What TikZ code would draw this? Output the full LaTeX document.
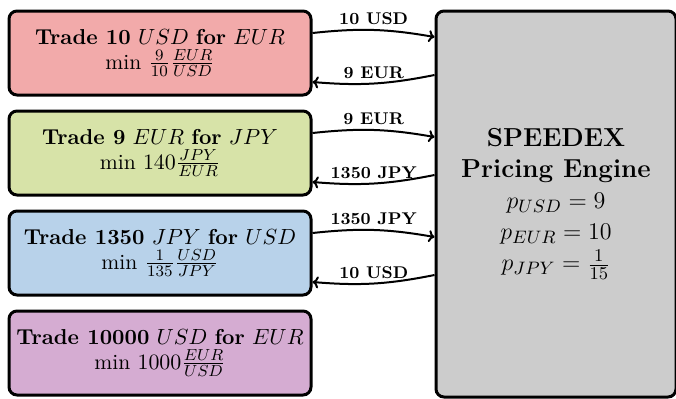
\documentclass[tikz,border=0pt]{standalone}
\usetikzlibrary{arrows.meta,calc}
\definecolor{cred}{RGB}{242,170,170}
\definecolor{cgreen}{RGB}{215,227,168}
\definecolor{cblue}{RGB}{184,210,234}
\definecolor{cpurple}{RGB}{213,172,210}
\definecolor{cgray}{RGB}{204,204,204}
\begin{document}
\begin{tikzpicture}[x=0.5pt,y=-0.5pt,
  trade/.style={draw=black,line width=1.5pt,rounded corners=4pt,minimum width=151pt,minimum height=42pt,align=center,inner sep=2pt,font=\fontsize{10.8}{12.5}\selectfont},
  engine/.style={draw=black,line width=1.5pt,rounded corners=4pt,fill=cgray,minimum width=120pt,minimum height=193pt,align=center,inner sep=2pt,font=\fontsize{13}{15.5}\selectfont},
  flow/.style={line width=1pt,-{To[length=3pt,width=6pt]}},
  amt/.style={font=\fontsize{8.5}{10}\selectfont\bfseries,inner sep=2pt}]
\useasboundingbox (0,0) rectangle (676,398);
\node[trade,fill=cred] (t1) at (160,53) {\textbf{Trade 10} $USD$ \textbf{for} $EUR$\\ min\ $\frac{9}{10}\frac{EUR}{USD}$};
\node[trade,fill=cgreen] (t2) at (160,153) {\textbf{Trade 9} $EUR$ \textbf{for} $JPY$\\ min\ $140\frac{JPY}{EUR}$};
\node[trade,fill=cblue] (t3) at (160,253) {\textbf{Trade 1350} $JPY$ \textbf{for} $USD$\\ min\ $\frac{1}{135}\frac{USD}{JPY}$};
\node[trade,fill=cpurple] (t4) at (160,353) {\textbf{Trade 10000} $USD$ \textbf{for} $EUR$\\ min\ $1000\frac{EUR}{USD}$};
\node[engine] (eng) at (556,204) {\textbf{SPEEDEX}\\ \textbf{Pricing Engine}\\ $p_{USD}=9$\\ $p_{EUR}=10$\\ $p_{JPY}=\frac{1}{15}$};
\foreach \i/\o/\b in {t1/10 USD/9 EUR, t2/9 EUR/1350 JPY, t3/1350 JPY/10 USD}{
  \draw[flow] ([yshift=10pt]\i.east) to[bend left=8] node[amt,above]{\o} ([yshift=8pt]\i.east -| eng.west);
  \draw[flow] ([yshift=-11pt]\i.east -| eng.west) to[bend left=8] node[amt,above]{\b} ([yshift=-14.5pt]\i.east);
}
\end{tikzpicture}
\end{document}
